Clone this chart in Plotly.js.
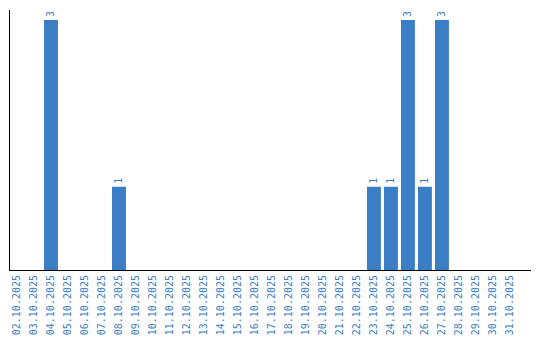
<!DOCTYPE html>
<html>
<head>
<meta charset="utf-8">
<script src="https://cdn.plot.ly/plotly-3.0.1.min.js"></script>
<style>html,body{margin:0;padding:0;background:#fff;}#chart{width:540px;height:340px;}</style>
</head>
<body>
<div id="chart"></div>
<script>
const dates = ["02.10.2025","03.10.2025","04.10.2025","05.10.2025","06.10.2025","07.10.2025","08.10.2025","09.10.2025","10.10.2025","11.10.2025","12.10.2025","13.10.2025","14.10.2025","15.10.2025","16.10.2025","17.10.2025","18.10.2025","19.10.2025","20.10.2025","21.10.2025","22.10.2025","23.10.2025","24.10.2025","25.10.2025","26.10.2025","27.10.2025","28.10.2025","29.10.2025","30.10.2025","31.10.2025"];
const counts = [0,0,3,0,0,0,1,0,0,0,0,0,0,0,0,0,0,0,0,0,0,1,1,3,1,3,0,0,0,0];
const barColor = "#3b7ec3";
const labels = counts.map(v => v > 0 ? String(v) : "");

const trace = {
  type: "bar",
  x: dates,
  y: counts,
  marker: {color: barColor},
  text: labels,
  textposition: "outside",
  textangle: -90,
  textfont: {family: "DejaVu Sans Mono", size: 10, color: barColor},
  cliponaxis: false,
  hoverinfo: "none"
};

const layout = {
  width: 540, height: 340,
  margin: {l: 10, r: 9, t: 10, b: 70},
  paper_bgcolor: "#fff", plot_bgcolor: "#fff",
  showlegend: false,
  bargap: 0.18,
  xaxis: {
    type: "category",
    range: [-0.41, 30.24],
    showline: true, linecolor: "#000", linewidth: 1,
    showgrid: false, zeroline: false, ticks: "",
    tickangle: -90,
    tickfont: {family: "DejaVu Sans Mono", size: 10, color: barColor},
    fixedrange: true
  },
  yaxis: {
    range: [0, 3.12],
    showline: true, linecolor: "#000", linewidth: 1,
    showgrid: false, zeroline: false, ticks: "",
    showticklabels: false,
    fixedrange: true
  }
};

Plotly.newPlot("chart", [trace], layout, {staticPlot: true, displayModeBar: false});
</script>
</body>
</html>
